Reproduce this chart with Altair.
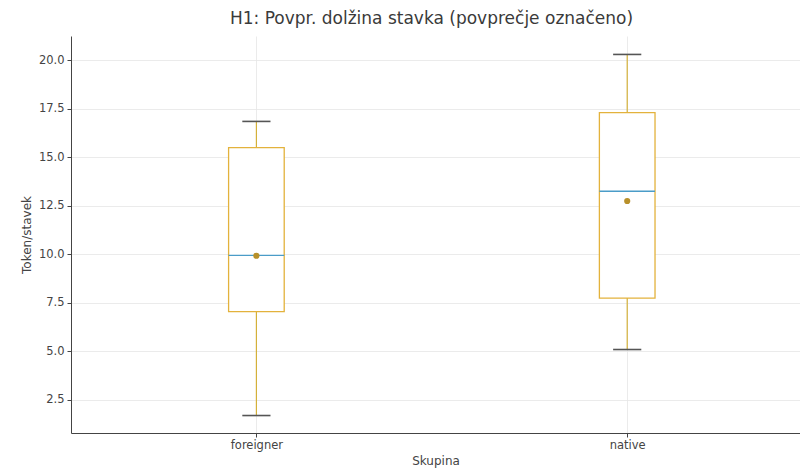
import altair as alt
import pandas as pd

# Summary statistics per group (tokens per sentence)
groups = ["foreigner", "native"]
positions = [1, 2]
whisker_low = [1.7, 5.1]
q1 = [7.05, 7.75]
median = [9.95, 13.25]
q3 = [15.5, 17.3]
whisker_high = [16.85, 20.3]
mean = [9.93, 12.75]

df = pd.DataFrame({
    "group": groups,
    "pos": positions,
    "lo": whisker_low,
    "q1": q1,
    "med": median,
    "q3": q3,
    "hi": whisker_high,
    "mean": mean,
})

FONT = "DejaVu Sans"
BOX_HALF = 0.075
CAP_HALF = 0.038

xscale = alt.Scale(domain=[0.5, 2.466], nice=False, zero=False)
yscale = alt.Scale(domain=[0.8, 21.25], nice=False, zero=False)

label_expr = "datum.value == 1 ? 'foreigner' : (datum.value == 2 ? 'native' : '')"

x_axis = alt.Axis(
    values=[1, 2], labelExpr=label_expr, title="Skupina",
    grid=True, gridColor="#e6e6e6", gridWidth=0.8,
    domainColor="#444", tickColor="#444", tickSize=4,
    labelFont=FONT, labelFontSize=11.5, labelColor="#444", labelPadding=2,
    titleFont=FONT, titleFontSize=12, titleFontWeight="normal", titleColor="#444",
    titlePadding=5,
)
y_axis = alt.Axis(
    values=[2.5, 5, 7.5, 10, 12.5, 15, 17.5, 20], format=".1f", title="Token/stavek",
    grid=True, gridColor="#e6e6e6", gridWidth=0.8,
    domainColor="#444", tickColor="#444", tickSize=4,
    labelFont=FONT, labelFontSize=11.5, labelColor="#444", labelPadding=3,
    titleFont=FONT, titleFontSize=12, titleFontWeight="normal", titleColor="#444",
    titlePadding=5,
)

base = alt.Chart(df).transform_calculate(
    bx1=f"datum.pos - {BOX_HALF}", bx2=f"datum.pos + {BOX_HALF}",
    cx1=f"datum.pos - {CAP_HALF}", cx2=f"datum.pos + {CAP_HALF}",
)

whiskers = base.mark_rule(color="#d4b13a", strokeWidth=1.2).encode(
    x=alt.X("pos:Q", scale=xscale, axis=x_axis),
    y=alt.Y("lo:Q", scale=yscale, axis=y_axis),
    y2="hi:Q",
)

box = base.mark_rect(fill="white", stroke="#e3b23c", strokeWidth=1.3).encode(
    x=alt.X("bx1:Q", scale=xscale),
    x2="bx2:Q",
    y=alt.Y("q1:Q", scale=yscale),
    y2="q3:Q",
)

caps_low = base.mark_rule(color="#555555", strokeWidth=1.6).encode(
    x=alt.X("cx1:Q", scale=xscale), x2="cx2:Q",
    y=alt.Y("lo:Q", scale=yscale),
)
caps_high = base.mark_rule(color="#555555", strokeWidth=1.6).encode(
    x=alt.X("cx1:Q", scale=xscale), x2="cx2:Q",
    y=alt.Y("hi:Q", scale=yscale),
)

medians = base.mark_rule(color="#4a9cc8", strokeWidth=1.4).encode(
    x=alt.X("bx1:Q", scale=xscale), x2="bx2:Q",
    y=alt.Y("med:Q", scale=yscale),
)

means = base.mark_point(filled=True, shape="circle", size=38, color="#b8902a", opacity=1).encode(
    x=alt.X("pos:Q", scale=xscale),
    y=alt.Y("mean:Q", scale=yscale),
)

chart = alt.layer(whiskers, box, caps_low, caps_high, medians, means).properties(
    width=729,
    height=397,
    background="white",
    title=alt.TitleParams(
        "H1: Povpr. dolžina stavka (povprečje označeno)",
        font=FONT, fontSize=17, fontWeight="normal", color="#3a3a3a",
        anchor="middle", offset=8, dx=-4,
    ),
    autosize=alt.AutoSizeParams(type="none"),
    padding={"left": 71, "top": 36, "right": 0, "bottom": 35},
).configure_view(strokeWidth=0, stroke="transparent")

chart.save("out.html", embed_options={"renderer": "svg", "actions": False})
